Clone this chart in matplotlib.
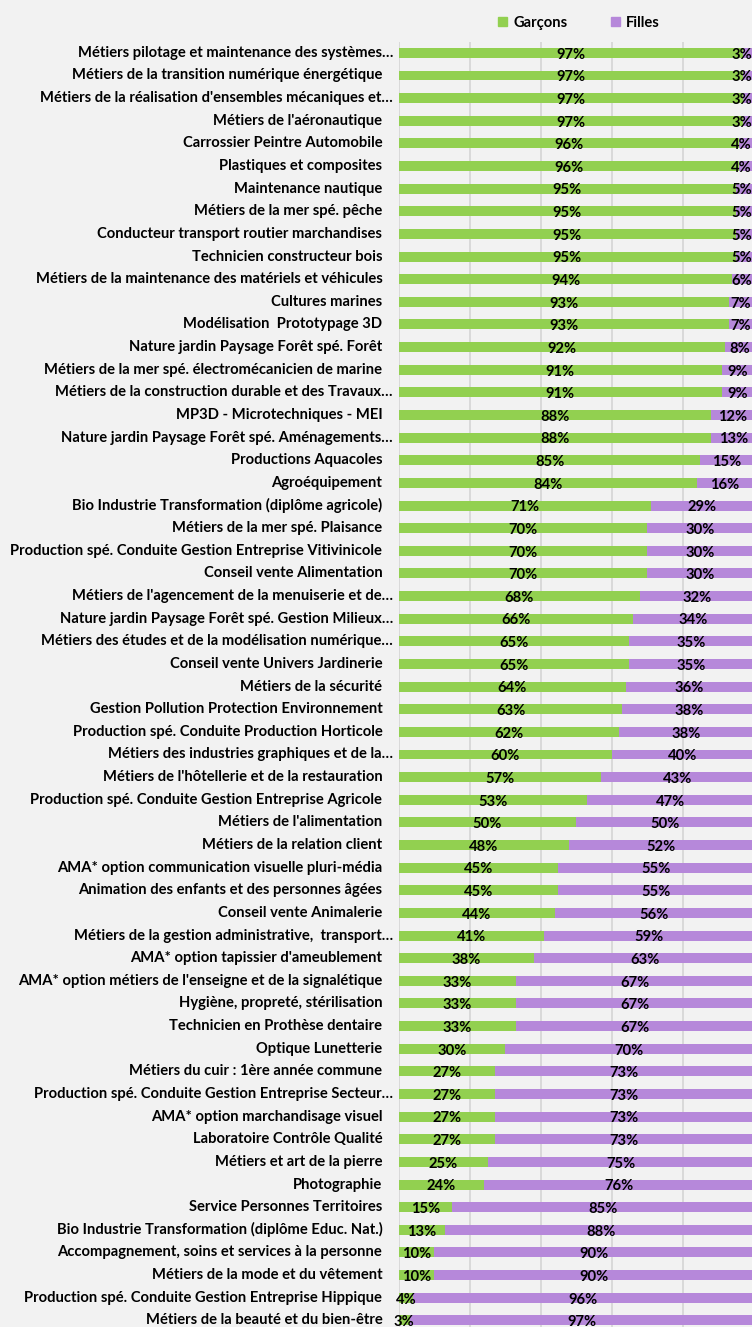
import matplotlib
matplotlib.use('Agg')
import matplotlib.pyplot as plt
from matplotlib.patches import Patch

plt.rcParams['font.family'] = ['Lato', 'DejaVu Sans']

formations = [
    "Métiers pilotage et maintenance des systèmes…",
    "Métiers de la transition numérique énergétique",
    "Métiers de la réalisation d'ensembles mécaniques et…",
    "Métiers de l'aéronautique",
    "Carrossier Peintre Automobile",
    "Plastiques et composites",
    "Maintenance nautique",
    "Métiers de la mer spé. pêche",
    "Conducteur transport routier marchandises",
    "Technicien constructeur bois",
    "Métiers de la maintenance des matériels et véhicules",
    "Cultures marines",
    "Modélisation  Prototypage 3D",
    "Nature jardin Paysage Forêt spé. Forêt",
    "Métiers de la mer spé. électromécanicien de marine",
    "Métiers de la construction durable et des Travaux…",
    "MP3D - Microtechniques - MEI",
    "Nature jardin Paysage Forêt spé. Aménagements…",
    "Productions Aquacoles",
    "Agroéquipement",
    "Bio Industrie Transformation (diplôme agricole)",
    "Métiers de la mer spé. Plaisance",
    "Production spé. Conduite Gestion Entreprise Vitivinicole",
    "Conseil vente Alimentation",
    "Métiers de l'agencement de la menuiserie et de…",
    "Nature jardin Paysage Forêt spé. Gestion Milieux…",
    "Métiers des études et de la modélisation numérique…",
    "Conseil vente Univers Jardinerie",
    "Métiers de la sécurité",
    "Gestion Pollution Protection Environnement",
    "Production spé. Conduite Production Horticole",
    "Métiers des industries graphiques et de la…",
    "Métiers de l'hôtellerie et de la restauration",
    "Production spé. Conduite Gestion Entreprise Agricole",
    "Métiers de l'alimentation",
    "Métiers de la relation client",
    "AMA* option communication visuelle pluri-média",
    "Animation des enfants et des personnes âgées",
    "Conseil vente Animalerie",
    "Métiers de la gestion administrative,  transport…",
    "AMA* option tapissier d'ameublement",
    "AMA* option métiers de l'enseigne et de la signalétique",
    "Hygiène, propreté, stérilisation",
    "Technicien en Prothèse dentaire",
    "Optique Lunetterie",
    "Métiers du cuir : 1ère année commune",
    "Production spé. Conduite Gestion Entreprise Secteur…",
    "AMA* option marchandisage visuel",
    "Laboratoire Contrôle Qualité",
    "Métiers et art de la pierre",
    "Photographie",
    "Service Personnes Territoires",
    "Bio Industrie Transformation (diplôme Educ. Nat.)",
    "Accompagnement, soins et services à la personne",
    "Métiers de la mode et du vêtement",
    "Production spé. Conduite Gestion Entreprise Hippique",
    "Métiers de la beauté et du bien-être",
]

garcons = [97, 97, 97, 97, 96, 96, 95, 95, 95, 95, 94, 93, 93, 92, 91, 91, 88, 88, 85, 84,
           71, 70, 70, 70, 68, 66, 65, 65, 64, 63, 62, 60, 57, 53, 50, 48, 45, 45, 44, 41,
           38, 33, 33, 33, 30, 27, 27, 27, 27, 25, 24, 15, 13, 10, 10, 4, 3]
filles = [3, 3, 3, 3, 4, 4, 5, 5, 5, 5, 6, 7, 7, 8, 9, 9, 12, 13, 15, 16,
          29, 30, 30, 30, 32, 34, 35, 35, 36, 38, 38, 40, 43, 47, 50, 52, 55, 55, 56, 59,
          63, 67, 67, 67, 70, 73, 73, 73, 73, 75, 76, 85, 88, 90, 90, 96, 97]

VERT = '#92D050'
VIOLET = '#B688DA'
FOND = '#F2F2F2'
TAILLE = 10.6

fig = plt.figure(figsize=(7.52, 13.27), dpi=100, facecolor=FOND)
ax = fig.add_axes([0.5305, -0.0035, 0.4715, 0.9722])
ax.set_facecolor(FOND)

y = list(range(len(formations)))
ax.barh(y, garcons, height=0.44, color=VERT, zorder=3)
ax.barh(y, filles, left=garcons, height=0.44, color=VIOLET, zorder=3)

for i, (g, f) in enumerate(zip(garcons, filles)):
    ax.text(g / 2, i + 0.08, f"{g}%", ha='center', va='center',
            fontsize=TAILLE, fontweight='bold', color='black', zorder=4)
    xf = min(g + f / 2, 96.6)
    ax.text(xf, i + 0.08, f"{f}%", ha='center', va='center',
            fontsize=TAILLE, fontweight='bold', color='black', zorder=4)

# category labels, truncated ones sit a little further right
for i, lab in enumerate(formations):
    dx = -0.017 if lab.endswith('…') else -0.047
    ax.text(dx, i, lab, transform=ax.get_yaxis_transform(), ha='right', va='center',
            fontsize=TAILLE, fontweight='bold', color='black')

ax.set_xlim(0, 100)
ax.set_ylim(len(formations) - 0.5, -0.5)
ax.set_xticks([0, 20, 40, 60, 80, 100])
ax.set_yticks([])
ax.tick_params(axis='x', length=0, labelbottom=False)
ax.grid(axis='x', color='#D9D9D9', linewidth=1.4, zorder=0)
for s in ax.spines.values():
    s.set_visible(False)

handles = [Patch(color=VERT, label='Garçons'), Patch(color=VIOLET, label='Filles')]
fig.legend(handles=handles, loc='center', bbox_to_anchor=(0.77, 0.983), ncol=2,
           frameon=False, prop={'weight': 'bold', 'size': TAILLE},
           handlelength=0.6, handleheight=0.6, handletextpad=0.4, columnspacing=3.0)

fig.savefig('out.png', dpi=100, facecolor=FOND)
